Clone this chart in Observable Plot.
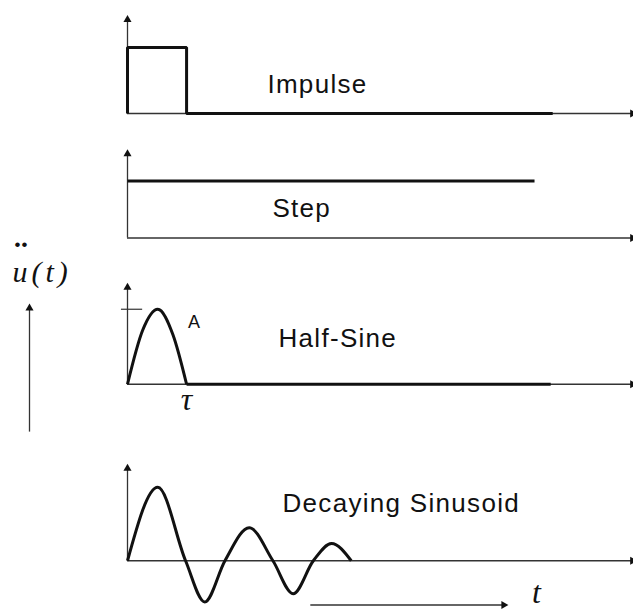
<!DOCTYPE html>
<html><head><meta charset="utf-8">
<script src="https://cdn.jsdelivr.net/npm/d3@7"></script>
<script src="https://cdn.jsdelivr.net/npm/@observablehq/plot@0.6"></script>
<style>
html,body{margin:0;padding:0;background:#fff;}
#chart{position:relative;width:633px;height:614px;overflow:hidden;background:#fff;}
#chart svg{position:absolute;left:0;overflow:visible;background:transparent;}
#chart svg.panel text.lbl{letter-spacing:1.3px;}
#chart svg.left text.ut{letter-spacing:4px;}
#chart svg.left text.dd{letter-spacing:1px;}
</style></head><body><div id="chart"></div>
<script>
// ---- data (time t, amplitude a) ----
const impulseT = [0, 0, 1.17, 1.17, 8.42];
const impulseA = [0, 0.88, 0.88, 0, 0];

const stepT = [0, 8.06];
const stepA = [0.76, 0.76];

const halfSineT = [0, 0.3, 0.6, 0.9, 1.17];
const halfSineA = [0, 0.72, 1.0, 0.66, 0];
const halfSineTailT = [1.17, 8.38];
const halfSineTailA = [0, 0];
const halfSinePeak = 1.0;   // "A" level
const tau = 1.17;

const decayT = [0, 0.6, 1.15, 1.53, 1.93, 2.41, 2.88, 3.28, 3.68, 4.04, 4.43];
const decayA = [0, 0.98, 0, -0.55, 0, 0.44, 0, -0.44, 0, 0.23, 0];

const labels = ["Impulse", "Step", "Half-Sine", "Decaying Sinusoid"];
const axisTops = [1.25, 1.12, 1.29, 1.23];
const tMax = 10;

// ---- layout ----
const K = 75;            // px per amplitude unit
const W = 633;
const panelLayout = [
  {baseline: 112.5, hi: 1.4, lo: -0.3, label: [2.77, 0.39]},
  {baseline: 237,   hi: 1.3, lo: -0.2, label: [2.87, 0.39]},
  {baseline: 384,   hi: 1.45, lo: -0.45, label: [2.99, 0.61]},
  {baseline: 560,   hi: 1.35, lo: -0.72, label: [3.07, 0.76]}
];

const pts = (T, A) => T.map((t, i) => ({t, a: A[i]}));
const INK = "#111";
const AX = "#333";
const SANS = "Liberation Sans, Arial, sans-serif";
const SERIF = "Liberation Serif, Times New Roman, serif";

function axes(i) {
  return [
    Plot.ruleY([0], {stroke: AX, strokeWidth: 1.3}),
    Plot.ruleX([0], {y1: 0, y2: axisTops[i], stroke: AX, strokeWidth: 1.3}),
    Plot.dot([0], {x: 0, y: axisTops[i], symbol: "triangle", r: 3, fill: INK, stroke: null}),
    Plot.dot([0], {x: tMax, y: 0, symbol: "triangle", r: 3, fill: INK, stroke: null, rotate: 90})
  ];
}
function label(i) {
  const L = panelLayout[i].label;
  return Plot.text([labels[i]], {x: L[0], y: L[1], text: d => d, textAnchor: "start",
    fontSize: 26, fontFamily: SANS, fill: INK});
}
const lineOpts = {x: "t", y: "a", stroke: INK, strokeWidth: 3, strokeLinejoin: "miter", strokeLinecap: "butt"};

const panelMarks = [
  [...axes(0), Plot.line(pts(impulseT, impulseA), lineOpts), label(0)],
  [...axes(1), Plot.line(pts(stepT, stepA), lineOpts), label(1)],
  [...axes(2),
    Plot.ruleY([halfSinePeak], {x1: -0.12, x2: 0.3, stroke: AX, strokeWidth: 1.2}),
    Plot.line(pts(halfSineT, halfSineA), {...lineOpts, curve: "monotone-x"}),
    Plot.line(pts(halfSineTailT, halfSineTailA), lineOpts),
    Plot.text(["A"], {x: 1.2, y: 0.83, text: d => d, textAnchor: "start", fontSize: 18,
      fontFamily: SANS, fill: INK}),
    Plot.text(["τ"], {x: tau, y: -0.2, text: d => d, fontSize: 32, fontStyle: "italic",
      fontFamily: SERIF, fill: INK}),
    label(2)],
  [...axes(3),
    Plot.line(pts(decayT, decayA), {...lineOpts, curve: "monotone-x"}),
    Plot.link([0], {x1: 3.62, x2: 7.45, y1: -0.59, y2: -0.59, stroke: AX, strokeWidth: 1.3}),
    Plot.dot([0], {x: 7.45, y: -0.59, symbol: "triangle", r: 3, fill: INK, stroke: null, rotate: 90}),
    Plot.text(["t"], {x: 8.1, y: -0.43, text: d => d, fontSize: 32, fontStyle: "italic",
      fontFamily: SERIF, fill: INK}),
    label(3)]
];

const chart = document.getElementById("chart");
panelLayout.forEach((p, i) => {
  const h = (p.hi - p.lo) * K;
  const svg = Plot.plot({
    width: W, height: h,
    marginLeft: 127, marginRight: 1, marginTop: 0, marginBottom: 0,
    x: {domain: [0, tMax], axis: null},
    y: {domain: [p.lo, p.hi], axis: null},
    style: {background: "transparent", overflow: "visible"},
    marks: panelMarks[i]
  });
  svg.classList.add("panel");
  svg.style.top = (p.baseline - p.hi * K) + "px";
  d3.select(svg).selectAll("text").filter(function() { return labels.includes(this.textContent); }).classed("lbl", true);
  chart.appendChild(svg);
});

// left annotation: ü(t) with upward arrow
const left = Plot.plot({
  width: 100, height: 210,
  marginLeft: 0, marginRight: 0, marginTop: 0, marginBottom: 0,
  x: {domain: [0, 1], axis: null},
  y: {domain: [0, 1], axis: null},
  style: {background: "transparent", overflow: "visible"},
  marks: [
    Plot.ruleX([0.29], {y1: 0.04, y2: 0.63, stroke: AX, strokeWidth: 1.3}),
    Plot.dot([0], {x: 0.29, y: 0.63, symbol: "triangle", r: 3, fill: INK, stroke: null}),
    Plot.text(["••"], {x: 0.14, y: 0.935, text: d => d, textAnchor: "start", fontSize: 17,
      fontFamily: SANS, fill: INK}),
    Plot.text(["u(t)"], {x: 0.12, y: 0.80, text: d => d, textAnchor: "start", fontSize: 30,
      fontStyle: "italic", fontFamily: SERIF, fill: INK})
  ]
});
left.classList.add("left");
left.style.top = "230px";
d3.select(left).selectAll("text").filter(function() { return this.textContent === "u(t)"; }).classed("ut", true);
d3.select(left).selectAll("text").filter(function() { return this.textContent === "••"; }).classed("dd", true);
chart.appendChild(left);
</script></body></html>
